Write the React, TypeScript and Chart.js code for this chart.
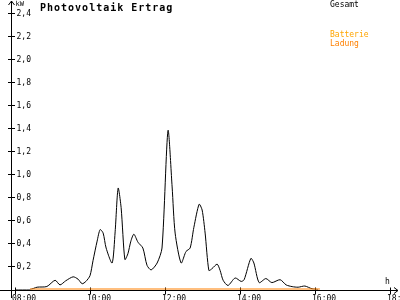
import React, { useEffect, useRef } from "react";
import { Chart, registerables } from "chart.js";

Chart.register(...registerables);

const hours = [
  8.0, 8.4, 8.59, 8.85, 9.07, 9.2, 9.35, 9.55, 9.68, 9.79, 9.89, 10.0, 10.08, 10.19, 10.27, 10.35, 10.43,
  10.59, 10.67, 10.75, 10.83, 10.93, 11.01, 11.09, 11.17, 11.28, 11.41, 11.52, 11.63, 11.79, 11.92, 12.08,
  12.19, 12.27, 12.43, 12.56, 12.67, 12.77, 12.91, 12.99, 13.07, 13.17, 13.25, 13.39, 13.47, 13.55, 13.68,
  13.87, 14.03, 14.11, 14.29, 14.37, 14.51, 14.69, 14.85, 15.07, 15.23, 15.39, 15.55, 15.73, 15.92, 16.08,
];
const gesamt = [
  0, 0, 0.02, 0.026, 0.08, 0.04, 0.075, 0.11, 0.09, 0.05, 0.07, 0.12, 0.25, 0.42, 0.52, 0.49, 0.36,
  0.23, 0.5, 0.88, 0.71, 0.26, 0.31, 0.42, 0.48, 0.41, 0.36, 0.21, 0.17, 0.23, 0.36, 1.38,
  0.89, 0.49, 0.23, 0.33, 0.36, 0.54, 0.74, 0.69, 0.49, 0.165, 0.18, 0.22, 0.165, 0.08, 0.035,
  0.1, 0.07, 0.085, 0.27, 0.23, 0.06, 0.095, 0.06, 0.085, 0.04, 0.025, 0.02, 0.03, 0.006, 0,
];
const ladungHours = [8.4, 16.13];
const ladung = [0, 0];

const yTicks = [0.2, 0.4, 0.6, 0.8, 1.0, 1.2, 1.4, 1.6, 1.8, 2.0, 2.2, 2.4];
const yTickLabels = ["0,2", "0,4", "0,6", "0,8", "1,0", "1,2", "1,4", "1,6", "1,8", "2,0", "2,2", "2,4"];
const xTicks = [8, 10, 12, 14, 16, 18];
const xTickLabels = ["08:00", "10:00", "12:00", "14:00", "16:00", "18:00"];

const TITLE = "Photovoltaik Ertrag";
const UNIT_Y = "kW";
const UNIT_X = "h";
const LEGEND = [
  { text: "Gesamt", color: "#000000", y: 5 },
  { text: "Batterie", color: "#FFA500", y: 35 },
  { text: "Ladung", color: "#FF8000", y: 44 },
];

const MONO = '"DejaVu Sans Mono", "Liberation Mono", monospace';

const axesPlugin = {
  id: "retroAxes",
  beforeDatasetsDraw(chart: any) {
    const ctx = chart.ctx as CanvasRenderingContext2D;
    const xs = chart.scales.x;
    const ys = chart.scales.y;
    ctx.save();
    ctx.strokeStyle = "#000";
    ctx.fillStyle = "#000";
    ctx.lineWidth = 1;

    const ax = Math.round(xs.left) + 0.5;
    const ay = Math.round(ys.getPixelForValue(0)) + 0.5;

    // y axis with arrow
    ctx.beginPath();
    ctx.moveTo(ax, 1);
    ctx.lineTo(ax, 298);
    ctx.moveTo(ax, 1);
    ctx.lineTo(ax - 3, 5);
    ctx.moveTo(ax, 1);
    ctx.lineTo(ax + 3, 5);
    // x axis with arrow
    ctx.moveTo(0, ay);
    ctx.lineTo(398, ay);
    ctx.moveTo(398, ay);
    ctx.lineTo(394, ay - 3);
    ctx.moveTo(398, ay);
    ctx.lineTo(394, ay + 3);
    ctx.stroke();

    // y ticks
    ctx.font = `8px ${MONO}`;
    ctx.textAlign = "left";
    ctx.textBaseline = "middle";
    yTicks.forEach((v, i) => {
      const y = Math.round(ys.getPixelForValue(v)) + 0.5;
      ctx.beginPath();
      ctx.moveTo(ax - 3.5, y);
      ctx.lineTo(ax + 3.5, y);
      ctx.stroke();
      ctx.fillText(yTickLabels[i], ax + 5, y + 0.5);
    });

    // x ticks
    ctx.textBaseline = "top";
    xTicks.forEach((h, i) => {
      const x = Math.round(xs.getPixelForValue(h)) + 0.5;
      ctx.beginPath();
      ctx.moveTo(x, ay - 3);
      ctx.lineTo(x, ay + 4);
      ctx.stroke();
      ctx.fillText(xTickLabels[i], x - 3.5, ay + 4);
    });

    // units
    ctx.font = `7px ${MONO}`;
    ctx.textBaseline = "middle";
    ctx.fillText(UNIT_Y, ax + 4, 4);
    ctx.font = `8px ${MONO}`;
    ctx.fillText(UNIT_X, 385, 282);

    // title
    ctx.font = `bold 10px ${MONO}`;
    (ctx as any).letterSpacing = "1px";
    ctx.textBaseline = "alphabetic";
    ctx.fillText(TITLE, 40, 10.5);
    (ctx as any).letterSpacing = "0px";

    // legend
    ctx.font = `8px ${MONO}`;
    ctx.textBaseline = "middle";
    LEGEND.forEach((l) => {
      ctx.fillStyle = l.color;
      ctx.fillText(l.text, 330, l.y);
    });
    ctx.restore();
  },
};

export default function App() {
  const ref = useRef<HTMLCanvasElement | null>(null);

  useEffect(() => {
    document.body.style.margin = "0";
    const canvas = ref.current;
    if (!canvas) return;
    const xMin = 8 - 4 / 37.5;
    const xMax = 18.2;
    const chart = new Chart(canvas, {
      type: "line",
      data: {
        datasets: [
          {
            label: "Batterie Ladung",
            data: ladungHours.map((h, i) => ({ x: h, y: ladung[i] })),
            borderColor: "#FF8000",
            borderWidth: 2,
            pointRadius: 0,
            tension: 0,
          },
          {
            label: "Gesamt",
            data: hours.map((h, i) => ({ x: h, y: gesamt[i] })),
            borderColor: "#000000",
            borderWidth: 1,
            pointRadius: 0,
            tension: 0.25,
          },
        ],
      },
      options: {
        responsive: false,
        animation: false,
        events: [],
        layout: { padding: { left: 11, right: 2.5, top: 13, bottom: 10.5 } },
        scales: {
          x: { type: "linear", min: xMin, max: xMax, display: false },
          y: { type: "linear", min: 0, max: 2.4, display: false },
        },
        plugins: { legend: { display: false }, tooltip: { enabled: false }, title: { display: false } },
      },
      plugins: [axesPlugin],
    });
    return () => chart.destroy();
  }, []);

  return (
    <div style={{ position: "fixed", left: 0, top: 0, width: 400, height: 300, background: "#fff" }}>
      <canvas ref={ref} width={400} height={300} style={{ display: "block" }} />
    </div>
  );
}
